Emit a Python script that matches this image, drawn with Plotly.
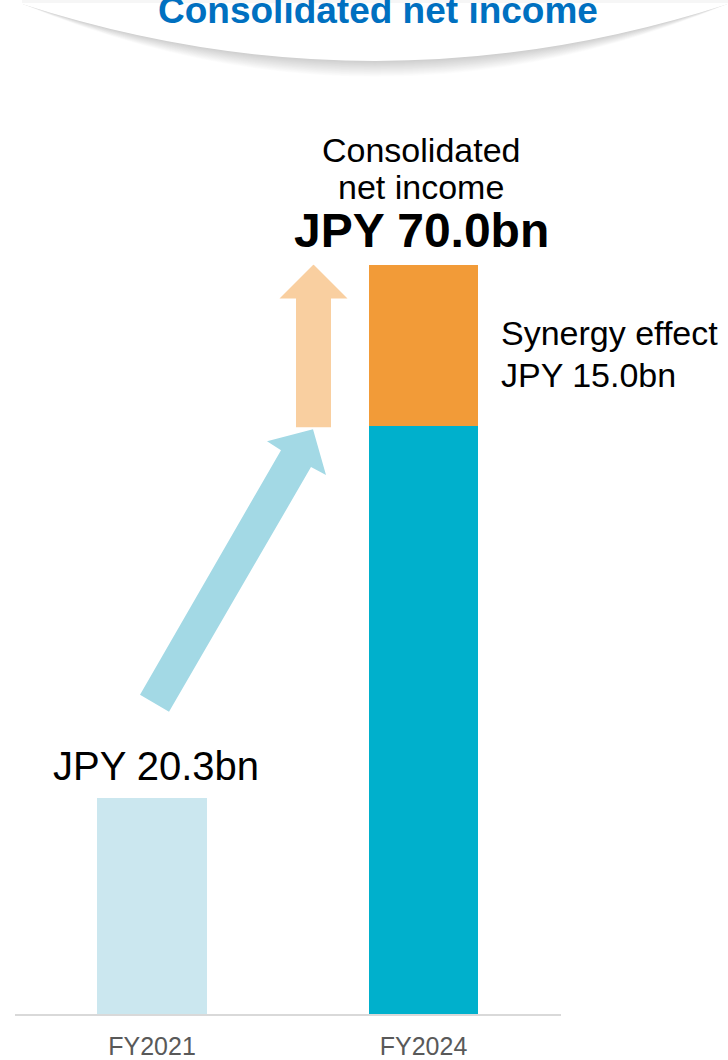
import plotly.graph_objects as go

# ---------------- data ----------------
categories = ["FY2021", "FY2024"]
cat_pos = [0, 1]
base_income = [20.3, 55.0]          # FY2021 actual, FY2024 base (excl. synergy)
synergy = [15.0]                    # FY2024 synergy effect
total_fy2024 = base_income[1] + synergy[0]
label_fy2021 = "JPY 20.3bn"
label_total = "JPY 70.0bn"
label_synergy = "JPY 15.0bn"

W, H = 728, 1060
BASE_PX, TOP_PX = 1017, 265        # pixel rows of 0 and the FY2024 total
X0_PX, STEP_PX = 152, 271.5        # pixel centre of first bar, category spacing

def px(x):  # pixel -> paper x
    return x / W

def py(y):  # pixel -> paper y
    return 1 - y / H

def dx(x):  # pixel -> data x
    return (x - X0_PX) / STEP_PX

def dy(y):  # pixel -> data y
    return (BASE_PX - y) * total_fy2024 / (BASE_PX - TOP_PX)

fig = go.Figure()
fig.add_trace(go.Bar(
    x=cat_pos, y=base_income, width=0.405,
    marker=dict(color=["#CBE7EF", "#00B0CC"], line=dict(width=0)),
    hoverinfo="skip", showlegend=False))
fig.add_trace(go.Bar(
    x=[cat_pos[1]], y=synergy, width=0.405,
    marker=dict(color="#F29B38", line=dict(width=0)),
    hoverinfo="skip", showlegend=False))

shapes = []

# top banner shadow + banner
def banner_path(extra):
    return (f"M {px(22)},{py(0)} L {px(22)},{py(4)} "
            f"Q {px(375)},{py(118 + 2 * extra)} {px(728)},{py(4)} "
            f"L {px(728)},{py(0)} Z")

for k in range(16, 0, -1):
    shapes.append(dict(type="path", xref="paper", yref="paper", path=banner_path(k),
                       fillcolor="rgba(0,0,0,0.012)", line=dict(width=0)))
shapes.append(dict(type="path", xref="paper", yref="paper", path=banner_path(0),
                   fillcolor="white", line=dict(width=0)))
shapes.append(dict(type="rect", xref="paper", yref="paper",
                   x0=px(22), x1=px(728), y0=py(3), y1=py(0),
                   fillcolor="#F6F6F6", line=dict(width=0)))

# baseline
shapes.append(dict(type="line", xref="paper", yref="paper",
                   x0=px(15), x1=px(561), y0=py(BASE_PX), y1=py(BASE_PX),
                   line=dict(color="#D9D9D9", width=2)))

# orange arrow (synergy: from base to total)
ox, ow, oh = 313.5, 17.5, 34
o_top = TOP_PX
o_head = 299
o_bot = 428
orange = [(ox, o_top), (ox + oh, o_head), (ox + ow, o_head), (ox + ow, o_bot),
          (ox - ow, o_bot), (ox - ow, o_head), (ox - oh, o_head)]
shapes.append(dict(type="path", xref="x", yref="y",
                   path="M " + " L ".join(f"{dx(a)},{dy(b)}" for a, b in orange) + " Z",
                   fillcolor="#F9CFA0", line=dict(width=0)))

# blue diagonal arrow
blue = [(140, 696), (281, 451), (267, 442), (313, 430), (326, 476), (311, 468), (169, 713)]
shapes.append(dict(type="path", xref="x", yref="y",
                   path="M " + " L ".join(f"{dx(a)},{dy(b)}" for a, b in blue) + " Z",
                   fillcolor="#A3D9E5", line=dict(width=0)))

ann = []
def text(t, x, y, size, bold=False, color="#000000", anchor="center", family="Liberation Sans, Arial, sans-serif"):
    ann.append(dict(text=f"<b>{t}</b>" if bold else t, x=px(x), y=py(y),
                    xref="paper", yref="paper", xanchor=anchor, yanchor="middle",
                    showarrow=False, font=dict(size=size, color=color, family=family)))

text("Consolidated net income", 378, 11, 37, bold=True, color="#0070C0")
text("Consolidated", 421, 150, 34)
text("net income", 421, 187, 34)
text(label_total, 421, 231, 48, bold=True)
text("Synergy effect", 499, 334, 34, anchor="left")
text(label_synergy, 499, 376, 34, anchor="left")
text(label_fy2021, 155.5, 767, 40)

fig.update_layout(
    width=W, height=H,
    margin=dict(l=0, r=0, t=0, b=0),
    paper_bgcolor="white", plot_bgcolor="white",
    barmode="stack", bargap=0,
    shapes=shapes, annotations=ann,
    xaxis=dict(domain=[0, 1], range=[dx(0), dx(W)],
               tickvals=cat_pos, ticktext=categories,
               showgrid=False, zeroline=False, showline=False, ticks="",
               ticklabelstandoff=14,
               tickfont=dict(size=25, color="#595959", family="Liberation Sans, Arial, sans-serif")),
    yaxis=dict(domain=[py(BASE_PX), py(TOP_PX)], range=[0, total_fy2024],
               showgrid=False, zeroline=False, showline=False, showticklabels=False, ticks=""),
)

fig.write_html("out.html")
